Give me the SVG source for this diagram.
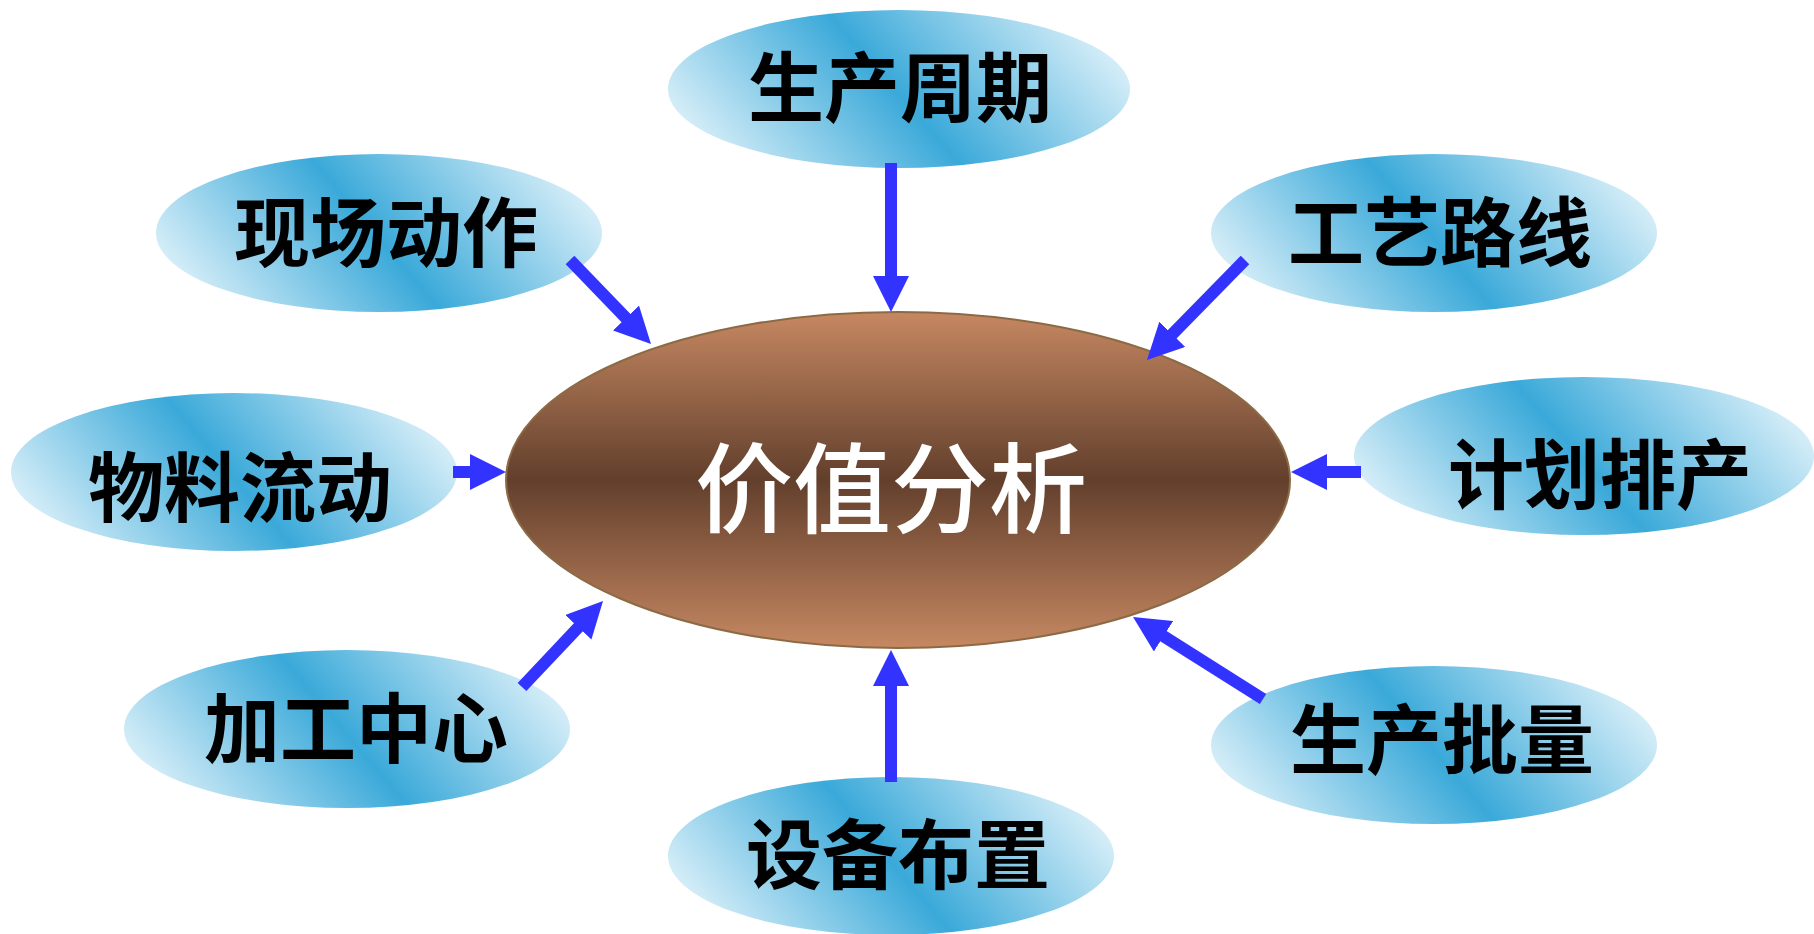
<svg xmlns="http://www.w3.org/2000/svg" width="1814" height="934" viewBox="0 0 1814 934">
<style>
.bub{fill:url(#blue);}
.lbl{font-family:"Noto Sans CJK SC","Noto Sans",sans-serif;font-size:76px;font-weight:700;fill:#000;text-anchor:middle;dominant-baseline:central;}
.ctr{font-family:"Noto Sans CJK SC","Noto Sans",sans-serif;font-size:98px;font-weight:500;fill:#fff;text-anchor:middle;dominant-baseline:central;}
.arr{stroke:#3333ff;stroke-width:12;fill:none;marker-end:url(#head);}
</style>
<defs>
<linearGradient id="blue" x1="0" y1="0.65" x2="1" y2="0.35">
<stop offset="0" stop-color="#dbf0f9"/>
<stop offset="0.49" stop-color="#3aa9d9"/>
<stop offset="1" stop-color="#dbf0f9"/>
</linearGradient>
<linearGradient id="brown" x1="0" y1="0" x2="0" y2="1">
<stop offset="0" stop-color="#c68862"/>
<stop offset="0.5" stop-color="#623f2c"/>
<stop offset="1" stop-color="#c68862"/>
</linearGradient>
<marker id="head" viewBox="0 0 36 36" markerWidth="36" markerHeight="36" refX="2" refY="18" orient="auto" markerUnits="userSpaceOnUse">
<path d="M0,0 L36,18 L0,36 z" fill="#3333ff"/>
</marker>
</defs>
<rect width="1814" height="934" fill="#fff"/>
<g id="center">
<ellipse cx="898" cy="480" rx="392" ry="168" fill="url(#brown)" stroke="#8b6a45" stroke-width="2"/>
<text class="ctr" x="891" y="482">价值分析</text>
</g>
<g id="n-shengchanzhouqi">
<ellipse class="bub" cx="899" cy="89" rx="231" ry="79"/>
<text class="lbl" x="900" y="83">生产周期</text>
</g>
<g id="n-xianchangdongzuo">
<ellipse class="bub" cx="379" cy="233" rx="223" ry="79"/>
<text class="lbl" x="386" y="228">现场动作</text>
</g>
<g id="n-gongyiluxian">
<ellipse class="bub" cx="1434" cy="233" rx="223" ry="79"/>
<text class="lbl" x="1440" y="228">工艺路线</text>
</g>
<g id="n-wuliaoliudong">
<ellipse class="bub" cx="234" cy="472" rx="223" ry="79"/>
<text class="lbl" x="240" y="483">物料流动</text>
</g>
<g id="n-jihuapaichan">
<ellipse class="bub" cx="1584" cy="456" rx="230" ry="79"/>
<text class="lbl" x="1600" y="470">计划排产</text>
</g>
<g id="n-jiagongzhongxin">
<ellipse class="bub" cx="347" cy="729" rx="223" ry="79"/>
<text class="lbl" x="356" y="724">加工中心</text>
</g>
<g id="n-shengchanpiliang">
<ellipse class="bub" cx="1434" cy="745" rx="223" ry="79"/>
<text class="lbl" x="1442" y="735">生产批量</text>
</g>
<g id="n-shebeibuzhi">
<ellipse class="bub" cx="891" cy="856" rx="223" ry="79"/>
<text class="lbl" x="898" y="850">设备布置</text>
</g>
<g id="connectors">
<line class="arr" x1="570" y1="260" x2="627.4" y2="319.5"/>
<line class="arr" x1="891" y1="163" x2="891" y2="278"/>
<line class="arr" x1="1245" y1="260" x2="1170.8" y2="335.7"/>
<line class="arr" x1="453" y1="472" x2="472" y2="472"/>
<line class="arr" x1="1361" y1="472" x2="1325" y2="472"/>
<line class="arr" x1="522" y1="687" x2="579.7" y2="625.8"/>
<line class="arr" x1="891" y1="782" x2="891" y2="684"/>
<line class="arr" x1="1263" y1="699" x2="1161.8" y2="635.2"/>
</g>
</svg>
